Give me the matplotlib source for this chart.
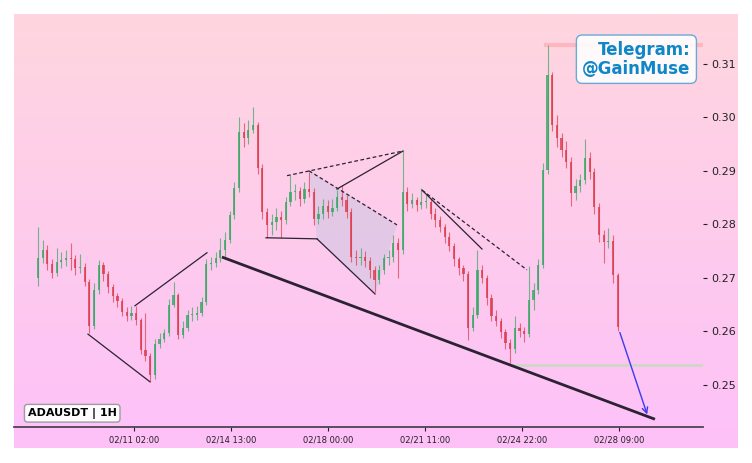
import numpy as np
import matplotlib
matplotlib.use("Agg")
import matplotlib.pyplot as plt
from matplotlib.patches import Polygon
from matplotlib.colors import LinearSegmentedColormap

# ---------------- data (4h candles) ----------------
hours = list(range(0, 500, 4))  # hours since 02/07 16:00
opens_first = 0.2700
closes = [0.2737, 0.2752, 0.2726, 0.2709, 0.2730, 0.2734, 0.2737, 0.2735, 0.2719, 0.2721,
          0.2693, 0.2610, 0.2678, 0.2724, 0.2707, 0.2683, 0.2666, 0.2657, 0.2636, 0.2629,
          0.2635, 0.2621, 0.2565, 0.2554, 0.2519, 0.2577, 0.2586, 0.2597, 0.2650, 0.2668,
          0.2593, 0.2607, 0.2631, 0.2631, 0.2635, 0.2655, 0.2726, 0.2728, 0.2737, 0.2752,
          0.2771, 0.2818, 0.2868, 0.2973, 0.2962, 0.2977, 0.2986, 0.2906, 0.2823, 0.2799,
          0.2805, 0.2814, 0.2808, 0.2842, 0.2861, 0.2863, 0.2848, 0.2866, 0.2861, 0.2810,
          0.2820, 0.2835, 0.2823, 0.2831, 0.2851, 0.2846, 0.2823, 0.2739, 0.2737, 0.2739,
          0.2732, 0.2715, 0.2696, 0.2715, 0.2737, 0.2739, 0.2765, 0.2752, 0.2861, 0.2838,
          0.2846, 0.2836, 0.2842, 0.2842, 0.2820, 0.2808, 0.2795, 0.2777, 0.2760, 0.2735,
          0.2719, 0.2707, 0.2607, 0.2631, 0.2715, 0.2700, 0.2663, 0.2629, 0.2620, 0.2599,
          0.2578, 0.2567, 0.2607, 0.2601, 0.2595, 0.2659, 0.2678, 0.2724, 0.2902, 0.3079,
          0.2986, 0.2962, 0.2939, 0.2917, 0.2859, 0.2872, 0.2883, 0.2924, 0.2898, 0.2833,
          0.2780, 0.2767, 0.2769, 0.2706, 0.2608]
highs = [0.2795, 0.2770, 0.2762, 0.2735, 0.2755, 0.2748, 0.2752, 0.2765, 0.2742, 0.2745,
         0.2728, 0.2698, 0.2690, 0.2734, 0.2730, 0.2712, 0.2688, 0.2672, 0.2662, 0.2645,
         0.2648, 0.2648, 0.2625, 0.2635, 0.2560, 0.2585, 0.2598, 0.2605, 0.2660, 0.2693,
         0.2672, 0.2620, 0.2640, 0.2645, 0.2648, 0.2665, 0.2735, 0.2740, 0.2748, 0.2775,
         0.2785, 0.2825, 0.2880, 0.3000, 0.2990, 0.2995, 0.3020, 0.2992, 0.2912, 0.2830,
         0.2820, 0.2830, 0.2825, 0.2852, 0.2893, 0.2875, 0.2870, 0.2880, 0.2898, 0.2868,
         0.2835, 0.2848, 0.2845, 0.2848, 0.2865, 0.2874, 0.2855, 0.2830, 0.2752, 0.2755,
         0.2750, 0.2740, 0.2722, 0.2725, 0.2745, 0.2752, 0.2780, 0.2775, 0.2939, 0.2870,
         0.2858, 0.2852, 0.2868, 0.2855, 0.2848, 0.2830, 0.2815, 0.2800, 0.2785, 0.2765,
         0.2740, 0.2725, 0.2712, 0.2645, 0.2752, 0.2725, 0.2705, 0.2670, 0.2640, 0.2625,
         0.2605, 0.2585, 0.2628, 0.2615, 0.2608, 0.2722, 0.2690, 0.2735, 0.2915, 0.3135,
         0.3085, 0.3005, 0.2970, 0.2955, 0.2925, 0.2885, 0.2895, 0.2960, 0.2935, 0.2905,
         0.2840, 0.2790, 0.2793, 0.2780, 0.2710]
lows = [0.2685, 0.2728, 0.2715, 0.2700, 0.2703, 0.2718, 0.2722, 0.2715, 0.2705, 0.2710,
        0.2685, 0.2597, 0.2605, 0.2670, 0.2695, 0.2672, 0.2655, 0.2645, 0.2628, 0.2620,
        0.2622, 0.2612, 0.2558, 0.2545, 0.2506, 0.2512, 0.2570, 0.2580, 0.2592, 0.2645,
        0.2585, 0.2588, 0.2600, 0.2620, 0.2622, 0.2628, 0.2650, 0.2715, 0.2720, 0.2730,
        0.2740, 0.2765, 0.2810, 0.2860, 0.2945, 0.2950, 0.2970, 0.2895, 0.2810, 0.2775,
        0.2780, 0.2790, 0.2775, 0.2800, 0.2835, 0.2845, 0.2835, 0.2840, 0.2852, 0.2798,
        0.2800, 0.2810, 0.2812, 0.2815, 0.2825, 0.2835, 0.2812, 0.2730, 0.2725, 0.2725,
        0.2720, 0.2700, 0.2674, 0.2688, 0.2708, 0.2725, 0.2730, 0.2700, 0.2745, 0.2825,
        0.2830, 0.2825, 0.2828, 0.2830, 0.2810, 0.2795, 0.2785, 0.2765, 0.2750, 0.2722,
        0.2705, 0.2695, 0.2584, 0.2600, 0.2625, 0.2690, 0.2650, 0.2620, 0.2610, 0.2588,
        0.2568, 0.2541, 0.2560, 0.2590, 0.2580, 0.2590, 0.2640, 0.2670, 0.2718, 0.2895,
        0.2975, 0.2945, 0.2925, 0.2905, 0.2835, 0.2845, 0.2860, 0.2875, 0.2885, 0.2820,
        0.2768, 0.2728, 0.2755, 0.2690, 0.2600]

tick_hours = [82, 165, 248, 331, 414, 497]
tick_labels = ["02/11 02:00", "02/14 13:00", "02/18 00:00", "02/21 11:00", "02/24 22:00", "02/28 09:00"]
y_ticks = [0.25, 0.26, 0.27, 0.28, 0.29, 0.30, 0.31]

# annotation geometry (hours, price)
tri_low = [(42.8, 0.2595), (95.8, 0.2506)]
tri_up = [(83.0, 0.2648), (144.6, 0.2747)]
trend = [(157.4, 0.2739), (527.9, 0.2436)]
flat = [(195.1, 0.2775), (238.7, 0.2773)]
chan_low = [(238.7, 0.2773), (288.4, 0.2670)]
dash_top = [(213.1, 0.2891), (312.3, 0.2937)]
chan_poly = [(231.9, 0.2900), (307.2, 0.2799), (288.4, 0.2670), (238.7, 0.2773)]
leg_up = [(255.8, 0.2866), (312.3, 0.2937)]
leg_b = [(328.6, 0.2864), (379.9, 0.2754)]
leg_b_dash = [(328.6, 0.2864), (418.4, 0.2715)]
arrow_pts = [(497.1, 0.2603), (522.0, 0.2440)]
res_level = 0.3135
res_start = 435.0
sup_level = 0.2537
sup_start = 405.0

# ---------------- figure ----------------
W, H = 752, 463
fig = plt.figure(figsize=(W / 100, H / 100), dpi=100)
fig.patch.set_facecolor("white")

bg = fig.add_axes([14 / W, (H - 448) / H, 724 / W, 434 / H])
cmap = LinearSegmentedColormap.from_list("bgpink", ["#FFD6DF", "#FDC1F9"])
bg.imshow(np.linspace(0, 1, 256).reshape(-1, 1), aspect="auto", cmap=cmap,
          extent=[0, 1, 0, 1], origin="upper")
bg.set_axis_off()

ax = fig.add_axes([14 / W, (H - 427) / H, 689 / W, 413 / H])
ax.patch.set_alpha(0)

xlim = (-20.5, 569.0)
ylim = (0.24215, 0.3193)

# horizontal levels
ax.plot([res_start, xlim[1]], [res_level, res_level], color="#ffb0b8", lw=3, alpha=0.8, zorder=1)
ax.plot([sup_start, xlim[1]], [sup_level, sup_level], color="#c9d9c4", lw=2, alpha=0.9, zorder=1)

# candles
opens = [opens_first] + closes[:-1]
hrs = np.array(hours[:len(closes)])
o = np.array(opens); c = np.array(closes); hi = np.array(highs); lo = np.array(lows)
up = c >= o
green, red = "#35a862", "#dd3b4c"
cols = np.where(up, green, red)
ax.vlines(hrs, lo, hi, colors=cols, lw=0.8, alpha=0.7, zorder=2)
ax.bar(hrs, np.maximum(np.abs(c - o), 0.0002), bottom=np.minimum(o, c), width=1.9,
       color=cols, alpha=0.8, linewidth=0, zorder=3)

# pattern shading
ax.add_patch(Polygon(chan_poly, closed=True, facecolor="#c9c6e2", alpha=0.5, edgecolor="none", zorder=1.5))

def seg(pts, **kw):
    xs, ys = zip(*pts)
    ax.plot(xs, ys, **kw)

k = dict(color="#2b2233", lw=0.9, zorder=4)
seg(tri_low, **k)
seg(tri_up, **k)
seg(flat, **k)
seg(chan_low, **k)
seg(leg_up, **k)
seg(leg_b, **k)
kd = dict(color="#2b2233", lw=0.9, ls=(0, (3, 2)), zorder=4)
seg(dash_top, **kd)
seg([chan_poly[0], chan_poly[1]], **kd)
seg(leg_b_dash, **kd)
seg(trend, color="#2b2233", lw=2.0, zorder=4, solid_capstyle="butt")
ax.annotate("", xy=arrow_pts[1], xytext=arrow_pts[0],
            arrowprops=dict(arrowstyle="->", color="#3a3af0", lw=1.0), zorder=5)

# axes styling
ax.set_xlim(*xlim)
ax.set_ylim(*ylim)
for s in ["top", "left", "right"]:
    ax.spines[s].set_visible(False)
ax.spines["bottom"].set_color("#4d4452")
ax.spines["bottom"].set_linewidth(1.3)
ax.yaxis.tick_right()
ax.set_yticks(y_ticks)
ax.set_yticklabels([f"{v:.2f}" for v in y_ticks])
ax.tick_params(axis="y", length=3, width=0.8, colors="#222222", labelsize=8, pad=3)
ax.set_xticks(tick_hours)
ax.set_xticklabels(tick_labels, fontsize=6, family=["Liberation Sans Narrow", "DejaVu Sans"])
ax.tick_params(axis="x", length=3, width=0.8, colors="#222222", pad=3)

ax.text(0.982, 0.935, "Telegram:\n@GainMuse", transform=ax.transAxes, ha="right", va="top",
        fontsize=12, fontweight="bold", color="#0f86c6", linespacing=1.05,
        bbox=dict(boxstyle="round,pad=0.35", facecolor="white", alpha=0.9, edgecolor="#5aa3d3", lw=1))
ax.text(0.02, 0.02, "ADAUSDT | 1H", transform=ax.transAxes, ha="left", va="bottom",
        fontsize=8, fontweight="bold", color="black",
        bbox=dict(boxstyle="round,pad=0.3", facecolor="white", alpha=0.95, edgecolor="#999999", lw=1))

fig.savefig("out.png", dpi=100)
